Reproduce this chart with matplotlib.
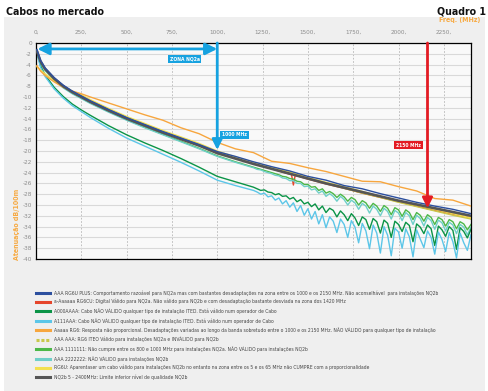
import numpy as np
import matplotlib
matplotlib.use("Agg")
import matplotlib.pyplot as plt
from matplotlib.lines import Line2D
from matplotlib.patches import Rectangle

# frequencies (MHz)
freq = [5, 25, 50, 100, 150, 200, 250, 300, 400, 500, 600, 700, 800, 900, 1000,
        1100, 1200, 1300, 1400, 1500, 1600, 1700, 1800, 1900, 2000, 2100, 2200, 2300, 2400]
freq_lo = freq[:17]
freq_hi = list(range(1220, 2401, 20))
freq_red = [5, 25, 50, 100, 150, 200, 250, 300, 400, 500, 600, 700, 800, 900, 1000,
            1100, 1200, 1300, 1400, 1410, 1420, 1430, 1500, 1600, 1700, 1800, 1900,
            2000, 2100, 2200, 2300, 2400]

# attenuation dB/100m
nq2b = [-1.5, -3.4, -4.8, -6.6, -8.0, -9.1, -10.0, -10.9, -12.5, -14.0, -15.3, -16.6, -17.8, -19.0, -20.4,
        -21.4, -22.4, -23.3, -24.2, -25.1, -26.0, -26.8, -27.6, -28.4, -29.2, -29.9, -30.6, -31.3, -32.0]
rg6u_plus = [-1.2, -3.2, -4.6, -6.4, -7.8, -8.9, -9.8, -10.7, -12.3, -13.8, -15.1, -16.4, -17.6, -18.8, -20.1,
             -21.0, -22.0, -22.9, -23.7, -24.7, -25.4, -26.4, -27.0, -27.9, -28.7, -29.5, -30.2, -30.8, -31.6]
aaaaa_rg6 = [-4.2, -5.2, -6.0, -7.2, -8.2, -8.9, -9.4, -10.0, -11.1, -12.2, -13.3, -14.3, -15.7, -16.8, -18.4,
             -19.6, -20.3, -21.9, -22.3, -23.1, -23.8, -24.7, -25.6, -25.7, -26.6, -27.4, -28.8, -29.1, -30.2]
rg6u = [-4.4, -5.0, -5.7, -7.0, -8.0, -8.9, -9.6, -10.5, -12.1, -13.6, -14.9, -16.2, -17.4, -18.6, -20.0,
        -21.1, -22.1, -23.0, -23.9, -24.9, -25.8, -26.6, -27.5, -28.4, -29.2, -30.0, -30.8, -31.6, -32.4]
rg6_iteo = [-2.0, -3.6, -4.9, -6.6, -8.0, -9.0, -9.8, -10.7, -12.3, -13.8, -15.2, -16.5, -17.7, -18.9, -20.3,
            -21.3, -22.3, -23.2, -24.1, -25.1, -26.0, -26.9, -27.8, -28.6, -29.5, -30.3, -31.1, -31.9, -32.6]
rg6cu = [-1.8, -3.5, -4.8, -6.5, -7.9, -9.0, -9.9, -10.8, -12.4, -13.9, -15.2, -16.5, -17.7, -18.9, -20.3,
         -21.3, -22.3, -23.3, -24.3, -24.4, -26.3, -24.5, -25.2, -26.1, -26.9, -27.8, -28.6,
         -29.4, -30.2, -31.0, -31.7, -32.4]

aaa_111_lo = [-1.8, -3.6, -5.0, -6.8, -8.2, -9.3, -10.2, -11.1, -12.7, -14.2, -15.6, -16.9, -18.2, -19.5, -20.9, -22.0, -23.0]
aaa_111_hi = [-23.2, -23.4, -23.6, -23.8, -24.0, -24.2, -24.4, -24.7, -24.8, -25.1, -25.2, -25.6, -25.7, -26.2, -26.2,
              -26.7, -26.6, -27.3, -27.0, -27.8, -27.5, -27.9, -28.6, -28.0, -28.5, -29.3, -28.6, -29.0, -30.0, -29.2,
              -29.6, -30.6, -29.7, -30.2, -31.2, -30.1, -30.6, -31.8, -30.5, -30.9, -32.1, -30.9, -31.4, -32.7, -31.4,
              -31.9, -33.0, -31.8, -32.3, -33.6, -32.3, -32.7, -33.9, -32.7, -33.1, -34.4, -33.1, -33.5, -34.6, -33.6]
aaa_222_lo = [-1.9, -3.7, -5.1, -6.9, -8.3, -9.4, -10.3, -11.2, -12.8, -14.3, -15.7, -17.0, -18.3, -19.6, -21.0, -22.1, -23.1]
aaa_222_hi = [-23.4, -23.5, -23.8, -24.0, -24.2, -24.5, -24.6, -25.0, -25.1, -25.5, -25.5, -26.0, -26.0, -26.6, -26.5,
              -27.2, -27.0, -27.8, -27.4, -28.4, -27.9, -28.4, -29.3, -28.4, -29.0, -30.0, -29.1, -29.6, -30.8, -29.7,
              -30.2, -31.5, -30.2, -30.8, -32.0, -30.6, -31.2, -32.6, -31.0, -31.5, -32.9, -31.4, -32.0, -33.6, -31.9,
              -32.5, -33.9, -32.3, -32.9, -34.5, -32.8, -33.3, -34.8, -33.2, -33.7, -35.3, -33.6, -34.1, -35.5, -34.1]
a000_lo = [-1.6, -4.2, -5.9, -8.2, -9.9, -11.3, -12.4, -13.4, -15.3, -17.0, -18.5, -19.9, -21.4, -23.0, -24.7, -25.7, -26.7]
a000_hi = [-27.0, -27.3, -27.2, -27.6, -27.7, -28.1, -27.9, -28.4, -28.3, -28.9, -28.6, -29.4, -29.0, -29.8, -29.5,
           -30.3, -29.8, -30.9, -30.2, -31.4, -30.6, -31.0, -32.2, -31.1, -31.8, -32.9, -31.6, -32.4, -33.8, -32.2,
           -32.7, -34.5, -32.5, -33.1, -35.2, -32.8, -33.4, -36.0, -33.0, -33.6, -34.9, -33.2, -33.8, -36.8, -33.5,
           -34.1, -35.3, -33.7, -34.4, -37.5, -33.9, -34.6, -35.8, -34.0, -34.7, -38.2, -34.2, -34.9, -36.1, -34.5]
a111_lo = [-2.0, -4.5, -6.2, -8.5, -10.2, -11.6, -12.7, -13.8, -15.8, -17.6, -19.1, -20.6, -22.1, -23.7, -25.4, -26.4, -27.3]
a111_hi = [-27.6, -28.0, -27.8, -28.5, -28.3, -29.1, -28.7, -29.8, -29.2, -30.4, -29.6, -31.2, -30.1, -31.9, -30.7,
           -32.6, -31.2, -33.5, -31.8, -34.2, -32.2, -33.0, -35.1, -32.6, -33.6, -36.0, -32.9, -34.1, -37.0, -33.4,
           -34.8, -38.1, -33.7, -35.2, -38.9, -34.0, -35.6, -39.4, -34.3, -35.0, -38.0, -34.4, -35.9, -39.6, -34.6,
           -36.3, -37.9, -34.8, -36.0, -39.1, -35.0, -36.4, -38.6, -35.1, -36.8, -39.8, -35.2, -37.0, -38.4, -35.5]

labels = [
    "AAA RG6U PLUS: Comportamento razoável para NQ2a mas com bastantes desadaptações na zona entre os 1000 e os 2150 MHz. Não aconselhável  para instalações NQ2b",
    "a-Aaaaaa RG6CU: Digital Válido para NQ2a. Não válido para NQ2b e com desadaptação bastante desviada na zona dos 1420 MHz",
    "A000AAAA: Cabo NÃO VÁLIDO qualquer tipo de instalação ITED. Está válido num operador de Cabo",
    "A111AAA: Cabo NÃO VÁLIDO qualquer tipo de instalação ITED. Está válido num operador de Cabo",
    "Aaaaa RG6: Resposta não proporcional. Desadaptações variadas ao longo da banda sobretudo entre o 1000 e os 2150 MHz. NÃO VÁLIDO para qualquer tipo de instalação",
    "AAA AAA: RG6 ITEO Válido para instalações NQ2a e INVÁLIDO para NQ2b",
    "AAA 1111111: Não cumpre entre os 800 e 1000 MHz para instalações NQ2a. NÃO VÁLIDO para instalações NQ2b",
    "AAA 2222222: NÃO VÁLIDO para instalações NQ2b",
    "RG6U: Aparentaser um cabo válido para instalações NQ2b no entanto na zona entre os 5 e os 65 MHz não CUMPRE com a proporcionalidade",
    "NQ2b 5 - 2400MHz: Limite inferior nível de qualidade NQ2b",
]
colors = ["#2c4f9e", "#e5452b", "#0b9447", "#5cc6e8", "#f7a63e",
          "#c8c84a", "#4cb848", "#6fcfc9", "#f3e04f", "#555555"]

blue = "#16a2e0"
red = "#e31b23"
orange = "#f7a940"
narrow = dict(family="DejaVu Sans", stretch="condensed")

W, H = 489, 391
fig = plt.figure(figsize=(W / 100, H / 100), dpi=100)
fig.patches.append(Rectangle((4 / W, 0), 481 / W, 1 - 17 / H, transform=fig.transFigure,
                             facecolor="#efefef", edgecolor="none", zorder=-1))

ax = fig.add_axes([36 / W, 1 - 259 / H, 435 / W, 216 / H])
ax.set_zorder(1)
ax.set_facecolor("#f9f9f9")
ax.set_xlim(0, 2400)
ax.set_ylim(-40, 0)
ax.xaxis.tick_top()
xt = list(range(0, 2400, 250))
ax.set_xticks(xt)
ax.set_xticklabels([f"{v}," for v in xt], **narrow)
ax.set_yticks(range(0, -41, -2))
ax.set_yticklabels([str(v) for v in range(0, -41, -2)], **narrow)
ax.tick_params(length=0, labelsize=4.6, labelcolor="#8c8c8c")
ax.tick_params(axis="x", pad=6)
ax.tick_params(axis="y", pad=3)
ax.yaxis.grid(True, color="#d9d9d9", lw=0.8)
ax.xaxis.grid(True, color="#b5b5b5", lw=0.6, ls=(0, (2, 2)))
ax.set_axisbelow(True)
for s in ax.spines.values():
    s.set_color("black")
    s.set_linewidth(0.9)

lw = 1.0
ax.plot(freq_red, rg6cu, color=colors[1], lw=lw, zorder=2)
ax.plot(freq, rg6_iteo, color=colors[5], lw=lw, zorder=2)
ax.plot(freq_lo + freq_hi, aaa_111_lo + aaa_111_hi, color=colors[6], lw=lw, zorder=2)
ax.plot(freq_lo + freq_hi, aaa_222_lo + aaa_222_hi, color=colors[7], lw=lw, zorder=2)
ax.plot(freq_lo + freq_hi, a000_lo + a000_hi, color=colors[2], lw=lw, zorder=2)
ax.plot(freq_lo + freq_hi, a111_lo + a111_hi, color=colors[3], lw=lw, zorder=2)
ax.plot(freq, rg6u, color=colors[8], lw=lw, zorder=3)
ax.plot(freq, aaaaa_rg6, color=colors[4], lw=lw, zorder=3)
ax.plot(freq, nq2b, color=colors[9], lw=1.9, zorder=3)
ax.plot(freq, rg6u_plus, color=colors[0], lw=lw, zorder=4)

# annotations
ax.annotate("", xy=(1000, -1.1), xytext=(8, -1.1), zorder=6,
            arrowprops=dict(arrowstyle="<|-|>,head_length=0.7,head_width=0.35", color=blue,
                            lw=2.0, shrinkA=0, shrinkB=0))
ax.annotate("", xy=(1000, -19.8), xytext=(1000, 0), zorder=6,
            arrowprops=dict(arrowstyle="-|>,head_length=0.6,head_width=0.3", color=blue,
                            lw=2.0, shrinkA=0, shrinkB=0))
ax.annotate("", xy=(2160, -30.6), xytext=(2160, 0), zorder=6,
            arrowprops=dict(arrowstyle="-|>,head_length=0.6,head_width=0.3", color=red,
                            lw=2.0, shrinkA=0, shrinkB=0))
box = dict(boxstyle="square,pad=0.35", ec="none")
ax.text(820, -3.0, "ZONA NQ2a", fontsize=3.6, color="white", weight="bold", **narrow,
        ha="center", va="center", bbox=dict(box, fc=blue), zorder=7)
ax.text(1095, -17.0, "1000 MHz", fontsize=3.6, color="white", weight="bold", **narrow,
        ha="center", va="center", bbox=dict(box, fc=blue), zorder=7)
ax.text(2056, -18.9, "2150 MHz", fontsize=3.6, color="white", weight="bold", **narrow,
        ha="center", va="center", bbox=dict(box, fc=red), zorder=7)

fig.text(6 / W, 1 - 12 / H, "Cabos no mercado", fontsize=7.6, weight="bold", **narrow,
         color="#111111", ha="left", va="center")
fig.text(486 / W, 1 - 12 / H, "Quadro 1", fontsize=7.6, weight="bold", **narrow,
         color="#111111", ha="right", va="center")
fig.text(460 / W, 1 - 20 / H, "Freq. (MHz)", fontsize=5, weight="bold", **narrow,
         color=orange, ha="center", va="center")
fig.text(17 / W, 1 - 224 / H, "Atenuação dB/100m", fontsize=5, weight="bold", **narrow,
         color=orange, ha="center", va="center", rotation=90)

handles = []
for i, c in enumerate(colors):
    ls = (0, (1, 0.6)) if i == 5 else "-"
    handles.append(Line2D([], [], color=c, lw=2.2, ls=ls))
fig.legend(handles, labels, loc="upper left", bbox_to_anchor=(36 / W, 1 - 290 / H),
           frameon=False, prop=dict(size=3.6, **narrow), labelcolor="#444444",
           handlelength=2.8, handletextpad=0.75, labelspacing=0.7, borderpad=0, borderaxespad=0)

fig.savefig("out.png", dpi=100)
